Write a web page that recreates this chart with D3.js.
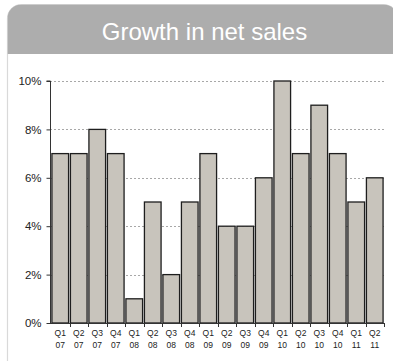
<!DOCTYPE html>
<html>
<head>
<meta charset="utf-8">
<script src="https://cdn.jsdelivr.net/npm/d3@7"></script>
<style>
  html, body { margin: 0; padding: 0; background: #ffffff; }
  svg { display: block; font-family: "Liberation Sans", Arial, sans-serif; }
</style>
</head>
<body>
<svg id="chart" width="393" height="361"></svg>
<script>
// Quarterly growth in net sales, percent
const quarters = ["Q1", "Q2", "Q3", "Q4", "Q1", "Q2", "Q3", "Q4", "Q1", "Q2", "Q3", "Q4", "Q1", "Q2", "Q3", "Q4", "Q1", "Q2"];
const years    = ["07", "07", "07", "07", "08", "08", "08", "08", "09", "09", "09", "09", "10", "10", "10", "10", "11", "11"];
const growth   = [7, 7, 8, 7, 1, 5, 2, 5, 7, 4, 4, 6, 10, 7, 9, 7, 5, 6];
const yTicks   = [0, 2, 4, 6, 8, 10];
const title    = "Growth in net sales";

const svg = d3.select("#chart");
const keys = growth.map((_, i) => i);

// Card with rounded corners and a grey header band
const card = { x: 7.5, y: 4.5, w: 390, h: 380, r: 14 };
const defs = svg.append("defs");
defs.append("clipPath").attr("id", "cardClip")
  .append("rect")
  .attr("x", card.x).attr("y", card.y)
  .attr("width", card.w).attr("height", card.h)
  .attr("rx", card.r).attr("ry", card.r);

svg.append("rect")
  .attr("x", card.x).attr("y", card.y)
  .attr("width", card.w).attr("height", card.h)
  .attr("rx", card.r).attr("ry", card.r)
  .attr("fill", "#ffffff")
  .attr("stroke", "#d9d9d9")
  .attr("stroke-width", 1.2);

svg.append("rect")
  .attr("clip-path", "url(#cardClip)")
  .attr("x", card.x).attr("y", card.y)
  .attr("width", card.w).attr("height", 49.5)
  .attr("fill", "#adadad");

svg.append("text")
  .attr("x", 204.5).attr("y", 40)
  .attr("text-anchor", "middle")
  .attr("font-size", 24)
  .attr("fill", "#ffffff")
  .text(title);

// Scales
const x = d3.scaleBand()
  .domain(keys)
  .range([51, 384])
  .paddingInner(0.1)
  .paddingOuter(0.05);

const y = d3.scaleLinear()
  .domain([0, 10])
  .range([323, 81]);

// Dotted horizontal gridlines
svg.append("g")
  .selectAll("line")
  .data(yTicks.filter(d => d > 0))
  .join("line")
  .attr("x1", 50).attr("x2", 384)
  .attr("y1", d => Math.round(y(d)) + 0.5)
  .attr("y2", d => Math.round(y(d)) + 0.5)
  .attr("stroke", "#a8a8a8")
  .attr("stroke-width", 1)
  .attr("stroke-dasharray", "2,2");

// Bars
svg.append("g")
  .selectAll("rect")
  .data(growth)
  .join("rect")
  .attr("x", (d, i) => x(i))
  .attr("y", d => y(d))
  .attr("width", x.bandwidth())
  .attr("height", d => y(0) - y(d))
  .attr("fill", "#c8c4bc")
  .attr("stroke", "#1e1e1e")
  .attr("stroke-width", 1.3);

// Y axis
const yAxis = d3.axisLeft(y)
  .tickValues(yTicks)
  .tickFormat(d => d + "%")
  .tickSize(4)
  .tickPadding(5);

const yg = svg.append("g")
  .attr("transform", "translate(50.5,0)")
  .call(yAxis);
yg.select(".domain").attr("stroke", "#333333").attr("d", `M-4,${y(10)}H0V${y(0)}`);
yg.selectAll(".tick line").attr("stroke", "#333333");
yg.selectAll(".tick text")
  .attr("font-size", 11.5)
  .attr("fill", "#222222")
  .attr("font-family", "Liberation Sans, Arial, sans-serif");

// X axis: baseline plus ticks at band boundaries
const xg = svg.append("g");
xg.append("line")
  .attr("x1", 50).attr("x2", 384.5)
  .attr("y1", y(0) + 0.5).attr("y2", y(0) + 0.5)
  .attr("stroke", "#333333");

const boundaries = keys.map(i => x(i) + x.bandwidth() + x.step() * x.paddingInner() / 2);
xg.selectAll("line.tick")
  .data(boundaries)
  .join("line")
  .attr("class", "tick")
  .attr("x1", d => Math.round(d) + 0.5).attr("x2", d => Math.round(d) + 0.5)
  .attr("y1", y(0)).attr("y2", y(0) + 4)
  .attr("stroke", "#333333");

// Two-line category labels
const lab = xg.selectAll("text")
  .data(keys)
  .join("text")
  .attr("text-anchor", "middle")
  .attr("font-size", 8.5)
  .attr("fill", "#222222");
lab.append("tspan")
  .attr("x", i => x(i) + x.bandwidth() / 2)
  .attr("y", 335.5)
  .text(i => quarters[i]);
lab.append("tspan")
  .attr("x", i => x(i) + x.bandwidth() / 2)
  .attr("y", 347.5)
  .text(i => years[i]);
</script>
</body>
</html>
